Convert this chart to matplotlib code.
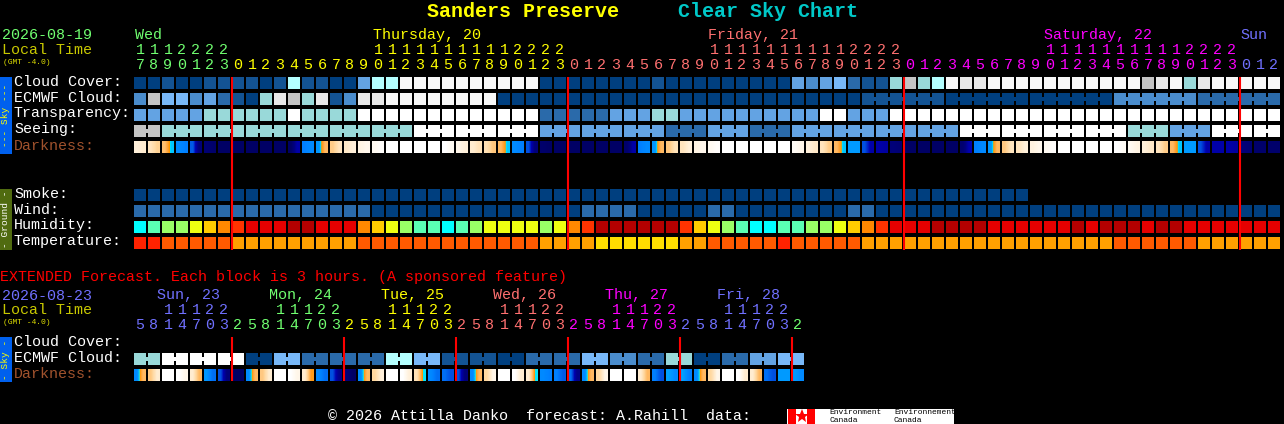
import matplotlib
matplotlib.use('Agg')
import matplotlib.pyplot as plt
from matplotlib.colors import LinearSegmentedColormap

# blue -> white cloud scale, the same one is used for transparency and seeing
sky_colors = ['#003f7f', '#135393', '#2a6aaa', '#4a8ccc', '#63a3e3', '#78b8f8',
              '#b4ffff', '#99d9d9', '#c4c4c4', '#e8e8e8', '#f8f8f8', '#ffffff']
humidity_colors = ['#00ffff', '#5affb4', '#99ff66', '#eeff11', '#ffcc00',
                   '#ff8800', '#ff3300', '#e60000', '#b30000']
temp_colors = ['#ffdd00', '#ffa000', '#ff5a00', '#ff2200']

hours = [17, 18, 19, 20, 21, 22, 23, 0, 1, 2, 3, 4, 5, 6, 7, 8, 9, 10, 11, 12, 13, 14, 15, 16, 17, 18, 19, 20, 21, 22, 23,
         0, 1, 2, 3, 4, 5, 6, 7, 8, 9, 10, 11, 12, 13, 14, 15, 16, 17, 18, 19, 20, 21, 22, 23,
         0, 1, 2, 3, 4, 5, 6, 7, 8, 9, 10, 11, 12, 13, 14, 15, 16, 17, 18, 19, 20, 21, 22, 23,
         0, 1, 2]
ext_hours = [5, 8, 11, 14, 17, 20, 23, 2, 5, 8, 11, 14, 17, 20, 23, 2, 5, 8, 11, 14, 17, 20, 23, 2,
             5, 8, 11, 14, 17, 20, 23, 2, 5, 8, 11, 14, 17, 20, 23, 2, 5, 8, 11, 14, 17, 20, 23, 2]

day_labels = ['Wed', 'Thursday, 20', 'Friday, 21', 'Saturday, 22', 'Sun']
day_x = [135, 373, 708, 1044, 1240]
day_colors = ['#70ff70', '#ffff00', '#ff7070', '#ff00ff', '#7070ff']
ext_labels = ['Sun, 23', 'Mon, 24', 'Tue, 25', 'Wed, 26', 'Thu, 27', 'Fri, 28']
ext_x = [157, 269, 381, 493, 605, 717]
ext_colors = ['#7070ff', '#70ff70', '#ffff00', '#ff7070', '#ff00ff', '#7070ff']

cloud_cover = [0, 0, 1, 0, 0, 1, 1, 1, 1, 0,
               1, 6, 1, 1, 0, 0, 4, 6, 6, 10,
               10, 10, 10, 10, 10, 10, 10, 10, 10, 0,
               0, 0, 0, 0, 0, 0, 0, 1, 0, 0,
               0, 0, 0, 0, 0, 0, 0, 4, 3, 4,
               5, 2, 1, 1, 7, 8, 7, 6, 10, 9,
               9, 10, 10, 10, 10, 10, 10, 10, 10, 10,
               10, 10, 8, 9, 10, 7, 9, 10, 10, 10,
               10, 10]
ecmwf_cloud = [3, 8, 5, 5, 3, 4, 2, 1, 0, 7,
               9, 8, 7, 9, 1, 3, 9, 9, 10, 10,
               10, 10, 10, 10, 10, 10, 0, 0, 0, 0,
               0, 0, 0, 0, 0, 0, 0, 0, 0, 0,
               0, 0, 0, 0, 0, 0, 0, 0, 0, 0,
               0, 0, 1, 1, 1, 1, 1, 1, 0, 0,
               0, 0, 0, 0, 0, 0, 0, 0, 0, 0,
               3, 3, 3, 3, 3, 3, 2, 2, 2, 2,
               2, 2]
transparency = [4, 4, 4, 4, 4, 7, 7, 7, 7, 7,
                7, 11, 7, 7, 7, 7, 11, 11, 11, 11,
                11, 11, 11, 11, 11, 11, 11, 11, 11, 2,
                2, 2, 2, 2, 4, 4, 4, 7, 7, 4,
                4, 4, 4, 4, 4, 4, 4, 4, 4, 11,
                11, 4, 4, 4, 11, 11, 11, 11, 11, 11,
                11, 11, 11, 11, 11, 11, 11, 11, 11, 11,
                11, 11, 11, 11, 11, 11, 11, 11, 11, 11,
                11, 11]
seeing = [8, 8, 7, 7, 7, 7, 7, 7, 7, 7,
          7, 7, 7, 7, 7, 7, 7, 7, 7, 7,
          11, 11, 11, 11, 11, 11, 11, 11, 11, 4,
          4, 4, 4, 4, 4, 4, 4, 4, 2, 2,
          2, 4, 4, 4, 2, 2, 2, 4, 4, 4,
          4, 4, 4, 4, 4, 4, 4, 4, 4, 11,
          11, 11, 11, 11, 11, 11, 11, 11, 11, 11,
          11, 7, 7, 7, 4, 4, 4, 11, 11, 11,
          11, 11]
# 0 = full daylight, 1 = deep night, value at left and right edge of each block
darkness_left = [.08, .14, .28, .50, .58, .88, .95, .95, .95, .95,
                 .95, .95, .52, .48, .24, .12, .06, .03, 0, 0,
                 0, 0, 0, .05, .10, .16, .30, .50, .60, .92,
                 .95, .95, .95, .95, .95, .92, .52, .48, .26, .14,
                 .06, .03, 0, 0, 0, 0, 0, .02, .08, .14,
                 .30, .47, .60, .72, .85, .95, .95, .95, .95, .90,
                 .52, .48, .25, .14, .07, .03, 0, 0, 0, 0,
                 0, .03, .08, .14, .30, .47, .60, .72, .72, .85,
                 .92, .92]
darkness_right = [.10, .22, .44, .52, .85, .92, .95, .95, .95, .95,
                  .95, .72, .50, .30, .14, .08, .04, .01, 0, 0,
                  0, 0, .03, .08, .15, .26, .44, .52, .85, .95,
                  .95, .95, .95, .95, .95, .72, .50, .30, .15, .08,
                  .04, .01, 0, 0, 0, 0, 0, .05, .12, .24,
                  .44, .47, .72, .74, .88, .95, .95, .95, .95, .70,
                  .50, .30, .14, .08, .04, .01, 0, 0, 0, 0,
                  .02, .06, .12, .24, .44, .47, .72, .72, .74, .88,
                  .92, .92]

smoke = [0, 0, 0, 0, 0, 0, 0, 0, 0, 0,
         0, 0, 0, 0, 0, 0, 0, 0, 0, 0,
         0, 0, 0, 0, 0, 0, 0, 0, 0, 0,
         0, 0, 0, 0, 0, 0, 0, 0, 0, 0,
         0, 0, 0, 0, 0, 0, 0, 0, 0, 0,
         0, 0, 0, 0, 0, 0, 0, 0, 0, 0,
         0, 0, 0, 0]
wind = [2, 2, 2, 2, 2, 2, 2, 2, 2, 2,
        2, 2, 2, 2, 2, 2, 2, 0, 0, 0,
        0, 0, 0, 0, 0, 0, 0, 0, 0, 0,
        0, 0, 2, 2, 2, 2, 0, 0, 0, 0,
        0, 2, 2, 0, 0, 0, 0, 0, 0, 0,
        0, 2, 2, 0, 0, 0, 0, 0, 0, 0,
        0, 0, 0, 0, 0, 0, 0, 0, 0, 0,
        0, 0, 0, 0, 0, 0, 0, 0, 0, 0,
        0, 0]
humidity = [0, 1, 2, 2, 3, 4, 5, 6, 7, 7,
            7, 8, 8, 7, 7, 7, 5, 4, 3, 2,
            1, 1, 0, 1, 2, 3, 3, 3, 3, 2,
            3, 5, 6, 8, 8, 8, 8, 8, 8, 6,
            4, 3, 2, 1, 0, 0, 1, 1, 2, 2,
            3, 4, 5, 6, 7, 7, 7, 8, 8, 8,
            8, 7, 7, 7, 7, 7, 7, 8, 7, 8,
            8, 8, 7, 8, 8, 7, 7, 7, 7, 7,
            7, 7]
temperature = [3, 3, 2, 2, 2, 2, 2, 1, 1, 1,
               1, 1, 1, 1, 1, 1, 2, 2, 2, 2,
               2, 2, 2, 2, 2, 2, 2, 2, 2, 1,
               1, 1, 1, 0, 0, 0, 0, 0, 0, 1,
               1, 2, 2, 2, 2, 2, 3, 2, 2, 2,
               2, 2, 1, 1, 1, 1, 1, 1, 1, 1,
               1, 1, 1, 1, 1, 1, 1, 1, 1, 1,
               2, 2, 2, 2, 2, 2, 1, 1, 1, 1,
               1, 1]

ext_ecmwf = [7, 11, 11, 11, 0, 5, 2, 2, 2, 6, 5, 1,
             1, 0, 2, 2, 5, 3, 2, 7, 0, 2, 4, 5]
ext_dark_left = [.50, .25, 0, 0, .10, .48, .60, .95, .50, .25, 0, 0,
                 .10, .50, .60, .85, .50, .20, 0, 0, .15, .50, .55, .60,
                 .50, .20, 0, 0, .10, .50, .52, .55, .50, .20, 0, 0,
                 .10, .52, .46, .46, .50, .20, 0, 0, .10, .55, .47, .47]
ext_dark_right = [.30, .10, 0, .05, .30, .55, .85, .95, .30, .10, 0, .05,
                  .38, .55, .80, .95, .30, .08, 0, .08, .42, .55, .60, .85,
                  .30, .05, 0, .10, .42, .52, .58, .80, .30, .05, 0, 0,
                  .30, .60, .50, .52, .30, .05, 0, .10, .30, .60, .47, .50]

COL = 14
BLOCK = 12
X0 = 134
FONT = 'Liberation Mono'

dark_cmap = LinearSegmentedColormap.from_list('dark', [
    (0, '#ffffff'), (.05, '#fff6e8'), (.10, '#ffecd0'), (.20, '#ffd8a0'), (.28, '#ffc070'),
    (.36, '#ffa030'), (.40, '#ff9800'), (.42, '#00e8ff'), (.46, '#00a0ff'),
    (.52, '#0080ff'), (.60, '#0050e0'), (.70, '#0000b0'), (.82, '#000080'),
    (1, '#00005c')])


def put(ax, x, y, s, color='white', size=10.8, **kw):
    ax.text(x, y, s, color=color, fontsize=size, family=FONT, va='center', **kw)


def draw_row(ax, y, values, palette):
    for i, v in enumerate(values):
        ax.bar(X0 + i * COL, BLOCK, BLOCK, y, color=palette[v], align='edge', linewidth=0)


def draw_links(ax, y, values, palette, linked):
    # the small bridge between two blocks of the same forecast period
    for i in range(len(values) - 1):
        if linked(i):
            ax.bar(X0 + i * COL + BLOCK, 4, COL - BLOCK, y + 4, color=palette[values[i]],
                   align='edge', linewidth=0)


def draw_dark(ax, y, left, right):
    for i in range(len(left)):
        x = X0 + i * COL
        ax.imshow([[left[i], right[i]]], extent=(x, x + BLOCK, y + BLOCK, y), cmap=dark_cmap,
                  vmin=0, vmax=1, interpolation='bilinear', aspect='auto')


def hour_color(i, starts, colors):
    col = colors[0]
    for s, c in zip(starts, colors):
        if i >= s:
            col = c
    return col


fig = plt.figure(figsize=(12.84, 4.24), dpi=100, facecolor='black')
ax = fig.add_axes([0, 0, 1, 1])
ax.set_facecolor('black')
ax.axis('off')

# title
put(ax, 427, 11.5, 'Sanders Preserve', '#ffff00', 14.4, fontweight='bold')
put(ax, 678, 11.5, 'Clear Sky Chart', '#00c8c8', 14.4, fontweight='bold')

# main header
put(ax, 2, 35, '2026-08-19', '#70ff70')
put(ax, 2, 50.5, 'Local Time', '#c8c800')
put(ax, 3, 62, '(GMT -4.0)', '#e0e000', 5.8)
for label, x, c in zip(day_labels, day_x, day_colors):
    put(ax, x, 35, label, c)
day_start = [0, 7, 31, 55, 79]
for i, h in enumerate(hours):
    c = hour_color(i, day_start, day_colors)
    if h >= 10:
        put(ax, X0 + i * COL + 6, 50, str(h // 10), c, ha='center')
    put(ax, X0 + i * COL + 6, 65, str(h % 10), c, ha='center')

# sky rows
names = ['Cloud Cover:', 'ECMWF Cloud:', 'Transparency:', 'Seeing:']
for n, y in zip(names, [77, 93, 109, 125]):
    put(ax, 14, y + 4.5, n)
put(ax, 14, 145.5, 'Darkness:', '#a0522d')
draw_row(ax, 77, cloud_cover, sky_colors)
draw_row(ax, 93, ecmwf_cloud, sky_colors)
draw_links(ax, 93, ecmwf_cloud, sky_colors, lambda i: i >= 52 and (i - 52) % 6 != 5)
draw_row(ax, 109, transparency, sky_colors)
draw_row(ax, 125, seeing, sky_colors)
draw_links(ax, 125, seeing, sky_colors, lambda i: i == 0 or (i >= 2 and (i - 2) % 3 != 2))
draw_dark(ax, 141, darkness_left, darkness_right)

# ground rows
names = ['Smoke:', 'Wind:', 'Humidity:', 'Temperature:']
for n, y in zip(names, [189, 205, 221, 237]):
    put(ax, 14, y + 4.5, n)
draw_row(ax, 189, smoke, sky_colors)
draw_row(ax, 205, wind, sky_colors)
draw_row(ax, 221, humidity, humidity_colors)
draw_row(ax, 237, temperature, temp_colors)

# side tabs
ax.bar(0, 77, 12, 77, color='#0060ee', align='edge', linewidth=0)
ax.bar(0, 61, 12, 189, color='#506b10', align='edge', linewidth=0)
ax.bar(0, 45, 12, 337, color='#0060ee', align='edge', linewidth=0)
put(ax, 6, 115.5, '--- Sky ---', '#ffff00', 6.8, rotation=90, ha='center')
put(ax, 6, 219.5, '- Ground -', 'white', 6.8, rotation=90, ha='center')
put(ax, 6, 359.5, '- Sky -', '#ffff00', 6.8, rotation=90, ha='center')

# midnight lines
for i in [7, 31, 55, 79]:
    ax.vlines(X0 + i * COL, 77, 250, color='#ff0000', linewidth=1.5, zorder=5)

# extended forecast
put(ax, 0, 276.5, 'EXTENDED Forecast. Each block is 3 hours. (A sponsored feature)', '#ff0000')
put(ax, 2, 295.5, '2026-08-23', '#7070ff')
put(ax, 2, 310.5, 'Local Time', '#c8c800')
put(ax, 3, 322, '(GMT -4.0)', '#e0e000', 5.8)
for label, x, c in zip(ext_labels, ext_x, ext_colors):
    put(ax, x, 295.5, label, c)
ext_start = [0, 7, 15, 23, 31, 39, 47]
ext_hour_colors = ['#7070ff', '#70ff70', '#ffff00', '#ff7070', '#ff00ff', '#7070ff', '#70ff70']
for i, h in enumerate(ext_hours):
    c = hour_color(i, ext_start, ext_hour_colors)
    if h >= 10:
        put(ax, X0 + i * COL + 6, 310, str(h // 10), c, ha='center')
    put(ax, X0 + i * COL + 6, 325, str(h % 10), c, ha='center')

put(ax, 14, 341.5, 'Cloud Cover:')
put(ax, 14, 357.5, 'ECMWF Cloud:')
put(ax, 14, 373.5, 'Darkness:', '#a0522d')
ext_blocks = [v for v in ext_ecmwf for _ in range(2)]
draw_row(ax, 353, ext_blocks, sky_colors)
draw_links(ax, 353, ext_blocks, sky_colors, lambda i: i % 2 == 0)
draw_dark(ax, 369, ext_dark_left, ext_dark_right)
for i in [7, 15, 23, 31, 39, 47]:
    ax.vlines(X0 + i * COL, 337, 381, color='#ff0000', linewidth=1.5, zorder=5)

# footer and the Environment Canada logo
put(ax, 328, 415.5, '\u00a9 2026 Attilla Danko  forecast: A.Rahill  data:')
ax.bar(787, 15, 167, 409, color='white', align='edge', linewidth=0)
ax.bar(788, 15, 8, 409, color='#ff0000', align='edge', linewidth=0)
ax.bar(807, 15, 8, 409, color='#ff0000', align='edge', linewidth=0)
ax.plot([801.5], [416], marker='*', markersize=10, color='#ff0000', markeredgewidth=0)
for x, w in [(829, 'Environment'), (894, 'Environnement')]:
    put(ax, x, 412.5, w, 'black', 5.8)
    put(ax, x, 420, 'Canada', 'black', 5.8)

ax.set_xlim(0, 1284)
ax.set_ylim(424, 0)
fig.savefig('out.png', dpi=100, facecolor='black')
